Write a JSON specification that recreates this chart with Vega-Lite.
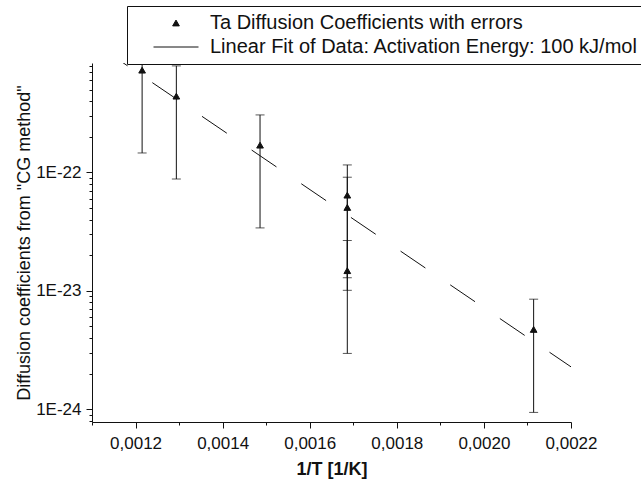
{
  "$schema": "https://vega.github.io/schema/vega-lite/v6.json",
  "width": 479,
  "height": 359,
  "autosize": {"type": "none"},
  "padding": {"left": 92, "top": 63, "right": 70, "bottom": 61},
  "background": "white",
  "config": {
    "view": {"stroke": null},
    "font": "Liberation Sans",
    "axis": {
      "grid": false,
      "domainColor": "#111111",
      "tickColor": "#111111",
      "labelColor": "#111111",
      "titleColor": "#111111",
      "labelFont": "Liberation Sans",
      "titleFont": "Liberation Sans",
      "labelFontSize": 17,
      "titleFontSize": 18,
      "labelFlush": false,
      "labelOverlap": false
    }
  },
  "datasets": {
    "points": [
      {"invT": 0.0012151, "D": 7.31e-22, "lo": 1.46e-22, "hi": 1.316e-21, "series": "Ta Diffusion Coefficients with errors"},
      {"invT": 0.0012937, "D": 4.41e-22, "lo": 8.8e-23, "hi": 7.94e-22, "series": "Ta Diffusion Coefficients with errors"},
      {"invT": 0.0014859, "D": 1.70e-22, "lo": 3.4e-23, "hi": 3.06e-22, "series": "Ta Diffusion Coefficients with errors"},
      {"invT": 0.0016863, "D": 6.43e-23, "lo": 1.29e-23, "hi": 1.157e-22, "series": "Ta Diffusion Coefficients with errors"},
      {"invT": 0.0016863, "D": 5.06e-23, "lo": 1.01e-23, "hi": 9.11e-23, "series": "Ta Diffusion Coefficients with errors"},
      {"invT": 0.0016863, "D": 1.48e-23, "lo": 2.96e-24, "hi": 2.66e-23, "series": "Ta Diffusion Coefficients with errors"},
      {"invT": 0.0021142, "D": 4.72e-24, "lo": 9.4e-25, "hi": 8.5e-24, "series": "Ta Diffusion Coefficients with errors"}
    ],
    "fit": [
      {"invT": 0.0011246, "D": 1.104e-21},
      {"invT": 0.0022, "D": 2.28e-24}
    ]
  },
  "layer": [
    {
      "data": {"name": "points"},
      "mark": {"type": "rule", "color": "#111111", "strokeWidth": 1, "clip": true},
      "encoding": {
        "x": {"field": "invT", "type": "quantitative",
          "scale": {"domain": [0.0011, 0.0022], "nice": false, "zero": false},
          "axis": {
            "title": "1/T [1/K]",
            "titleFontWeight": "bold",
            "titlePadding": 9,
            "values": [0.0011, 0.0012, 0.0013, 0.0014, 0.0015, 0.0016, 0.0017, 0.0018, 0.0019, 0.002, 0.0021, 0.0022],
            "labelExpr": "round(datum.value*10000) % 2 == 0 ? replace(format(datum.value, '.4f'), '.', ',') : ''",
            "tickSize": {"condition": {"test": "round(datum.value*10000) % 2 == 0", "value": 6}, "value": 3},
            "labelPadding": 7
          }
        },
        "y": {"field": "lo", "type": "quantitative",
          "scale": {"type": "log", "domain": [7.8e-25, 8.4e-22], "nice": false},
          "axis": {
            "title": "Diffusion coefficients from \"CG method\"",
            "titleFontWeight": "normal",
            "titlePadding": 2,
            "values": [8e-25, 9e-25, 1e-24, 2e-24, 3e-24, 4e-24, 5e-24, 6e-24, 7e-24, 8e-24, 9e-24, 1e-23, 2e-23, 3e-23, 4e-23, 5e-23, 6e-23, 7e-23, 8e-23, 9e-23, 1e-22, 2e-22, 3e-22, 4e-22, 5e-22, 6e-22, 7e-22, 8e-22],
            "labelExpr": "abs(log(datum.value)/LN10 - round(log(datum.value)/LN10)) < 0.001 ? '1E-' + round(-log(datum.value)/LN10) : ''",
            "tickSize": {"condition": {"test": "abs(log(datum.value)/LN10 - round(log(datum.value)/LN10)) < 0.001", "value": 6}, "value": 3},
            "labelPadding": 5
          }
        },
        "y2": {"field": "hi"}
      }
    },
    {
      "data": {"name": "points"},
      "mark": {"type": "tick", "orient": "horizontal", "size": 9, "thickness": 1, "color": "#111111", "clip": true},
      "encoding": {
        "x": {"field": "invT", "type": "quantitative"},
        "y": {"field": "lo", "type": "quantitative"}
      }
    },
    {
      "data": {"name": "points"},
      "mark": {"type": "tick", "orient": "horizontal", "size": 9, "thickness": 1, "color": "#111111", "clip": true},
      "encoding": {
        "x": {"field": "invT", "type": "quantitative"},
        "y": {"field": "hi", "type": "quantitative"}
      }
    },
    {
      "data": {"name": "fit"},
      "mark": {"type": "line", "color": "#111111", "strokeWidth": 1, "strokeDash": [30, 30], "clip": true},
      "encoding": {
        "x": {"field": "invT", "type": "quantitative"},
        "y": {"field": "D", "type": "quantitative"}
      }
    },
    {
      "data": {"name": "points"},
      "mark": {"type": "point", "filled": true, "fill": "#111111", "stroke": "#111111", "strokeWidth": 1, "opacity": 1},
      "encoding": {
        "x": {"field": "invT", "type": "quantitative"},
        "y": {"field": "D", "type": "quantitative"},
        "size": {
          "field": "series", "type": "nominal",
          "scale": {"domain": ["Ta Diffusion Coefficients with errors", "Linear Fit of Data: Activation Energy: 100 kJ/mol"], "range": [45, 2025]}
        },
        "shape": {
          "field": "series", "type": "nominal",
          "scale": {"domain": ["Ta Diffusion Coefficients with errors", "Linear Fit of Data: Activation Energy: 100 kJ/mol"], "range": ["triangle-up", "stroke"]},
          "legend": {
            "title": null,
            "orient": "none",
            "legendX": 35,
            "legendY": -57,
            "direction": "vertical",
            "strokeColor": "#111111",
            "fillColor": "white",
            "padding": 5,
            "symbolOffset": 21,
            "labelOffset": 11,
            "labelFont": "Liberation Sans",
            "labelFontSize": 20,
            "labelColor": "#111111",
            "labelLimit": 0,
            "clipHeight": 24,
            "rowPadding": 0,
            "symbolStrokeColor": "#111111",
            "symbolFillColor": "#111111",
            "symbolStrokeWidth": 1
          }
        }
      }
    }
  ]
}
